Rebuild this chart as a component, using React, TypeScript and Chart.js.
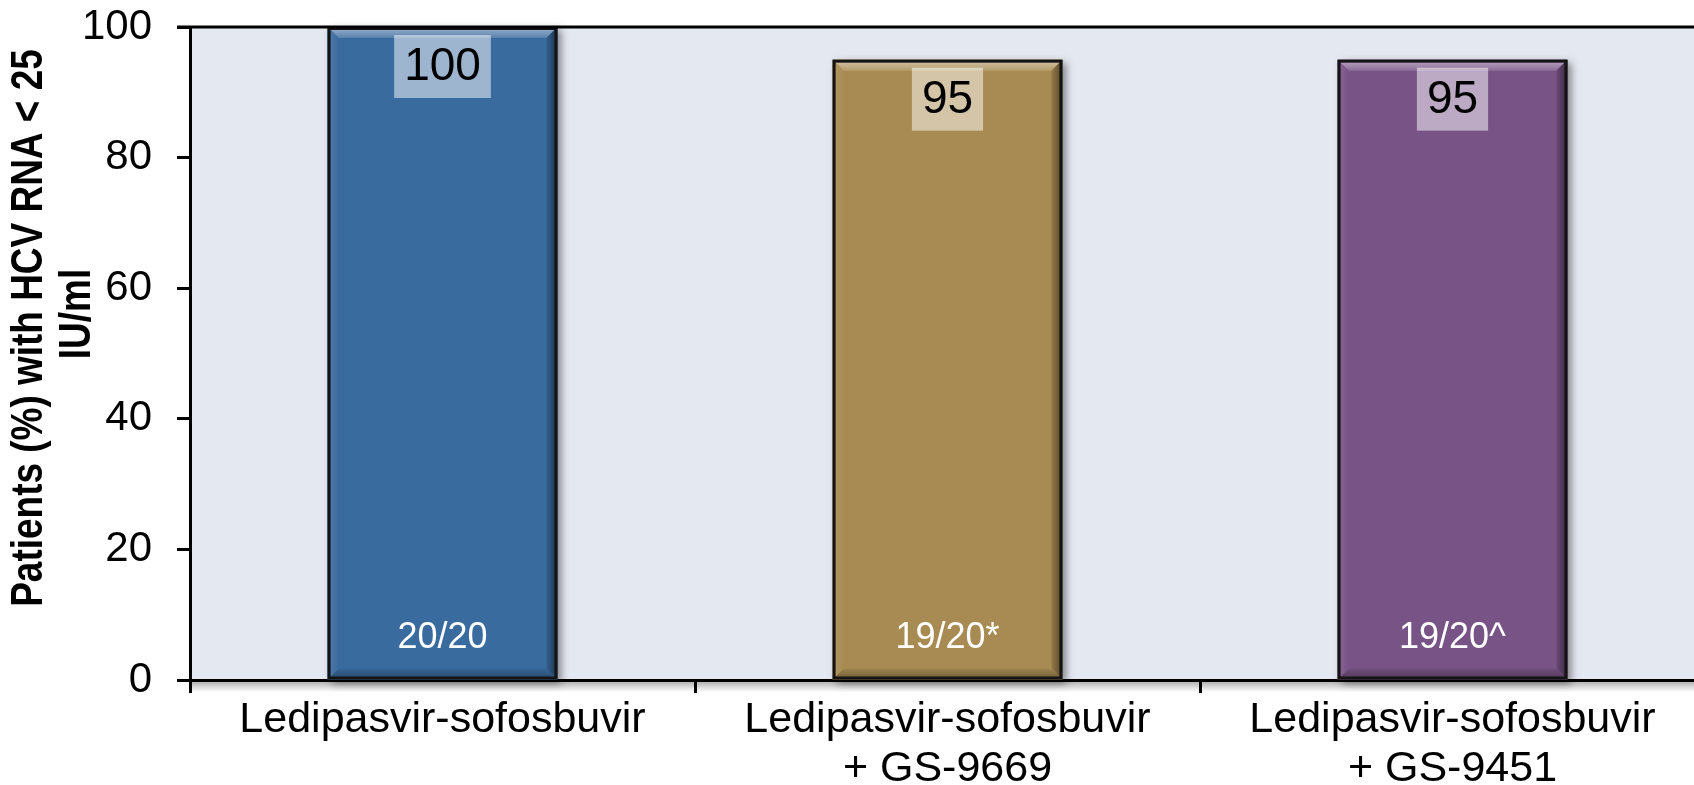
import React, { useEffect, useRef } from "react";
import { Chart, registerables } from "chart.js";

Chart.register(...registerables);

const categories: string[][] = [
  ["Ledipasvir-sofosbuvir"],
  ["Ledipasvir-sofosbuvir", "+ GS-9669"],
  ["Ledipasvir-sofosbuvir", "+ GS-9451"],
];
const values = [100, 95, 95];
const fractions = ["20/20", "19/20*", "19/20^"];
const barColors = ["#3A6B9F", "#A88B53", "#785386"];
const yTitle = ["Patients (%) with HCV RNA < 25", "IU/ml"];
const yMin = 0;
const yMax = 100;
const yStep = 20;

const FONT = '"Liberation Sans", Arial, Helvetica, sans-serif';

function hexToRgb(h: string) {
  const n = parseInt(h.slice(1), 16);
  return [(n >> 16) & 255, (n >> 8) & 255, n & 255];
}
function mix(c: string, target: string, t: number) {
  const a = hexToRgb(c);
  const b = hexToRgb(target);
  const r = a.map((v, i) => Math.round(v + (b[i] - v) * t));
  return `rgb(${r[0]},${r[1]},${r[2]})`;
}

const plotBg = {
  id: "plotBg",
  beforeDraw(chart: any) {
    const { ctx, chartArea: a } = chart;
    ctx.save();
    ctx.fillStyle = "#E4E8F0";
    ctx.fillRect(a.left, a.top, a.right - a.left, a.bottom - a.top);
    ctx.restore();
  },
};

const barDeco = {
  id: "barDeco",
  beforeDatasetsDraw(chart: any) {
    const { ctx, chartArea: a } = chart;
    const meta = chart.getDatasetMeta(0);
    ctx.save();
    const g = ctx.createLinearGradient(0, a.bottom, 0, a.bottom + 12);
    g.addColorStop(0, "rgba(0,0,0,0.35)");
    g.addColorStop(1, "rgba(0,0,0,0)");
    ctx.fillStyle = g;
    ctx.fillRect(a.left, a.bottom, a.right - a.left, 12);
    meta.data.forEach((el: any) => {
      const { x, y, base, width } = el.getProps(["x", "y", "base", "width"], true);
      ctx.save();
      ctx.shadowColor = "rgba(0,0,0,0.45)";
      ctx.shadowBlur = 8;
      ctx.shadowOffsetX = 4;
      ctx.shadowOffsetY = 3;
      ctx.fillStyle = "#555";
      ctx.fillRect(x - width / 2, y, width, base - y);
      ctx.restore();
    });
    ctx.restore();
  },
  afterDatasetsDraw(chart: any) {
    const { ctx } = chart;
    const meta = chart.getDatasetMeta(0);
    const poly = (pts: number[][], fill: any) => {
      ctx.beginPath();
      ctx.moveTo(pts[0][0], pts[0][1]);
      for (let i = 1; i < pts.length; i++) ctx.lineTo(pts[i][0], pts[i][1]);
      ctx.closePath();
      ctx.fillStyle = fill;
      ctx.fill();
    };
    meta.data.forEach((el: any, i: number) => {
      const { x, y, base, width } = el.getProps(["x", "y", "base", "width"], true);
      const l = x - width / 2;
      const r = x + width / 2;
      const t = y;
      const b = base;
      const bv = 11;
      const c = barColors[i];
      ctx.save();
      let g = ctx.createLinearGradient(0, t, 0, t + bv);
      g.addColorStop(0, mix(c, "#FFFFFF", 0.5));
      g.addColorStop(1, mix(c, "#FFFFFF", 0.15));
      poly([[l, t], [r, t], [r - bv, t + bv], [l + bv, t + bv]], g);
      g = ctx.createLinearGradient(r, 0, r - bv, 0);
      g.addColorStop(0, mix(c, "#000000", 0.5));
      g.addColorStop(1, mix(c, "#000000", 0.12));
      poly([[r, t], [r, b], [r - bv, b - bv], [r - bv, t + bv]], g);
      g = ctx.createLinearGradient(0, b, 0, b - bv);
      g.addColorStop(0, mix(c, "#000000", 0.35));
      g.addColorStop(1, mix(c, "#000000", 0.05));
      poly([[l, b], [r, b], [r - bv, b - bv], [l + bv, b - bv]], g);
      g = ctx.createLinearGradient(l, 0, l + bv, 0);
      g.addColorStop(0, mix(c, "#FFFFFF", 0.12));
      g.addColorStop(1, c);
      poly([[l, t], [l + bv, t + bv], [l + bv, b - bv], [l, b]], g);
      ctx.strokeStyle = "#141414";
      ctx.lineWidth = 3;
      ctx.strokeRect(l + 1.5, t + 1.5, width - 3, b - t - 3);

      ctx.font = `46px ${FONT}`;
      const txt = String(values[i]);
      const tw = ctx.measureText(txt).width;
      const bw = tw + 20;
      const bh = 63;
      const by = t + 8;
      ctx.fillStyle = "rgba(255,255,255,0.5)";
      ctx.fillRect(x - bw / 2, by, bw, bh);
      ctx.fillStyle = "#000000";
      ctx.textAlign = "center";
      ctx.textBaseline = "middle";
      ctx.fillText(txt, x, by + bh / 2 + 1);

      ctx.font = `36px ${FONT}`;
      ctx.fillStyle = "#FFFFFF";
      ctx.fillText(fractions[i], x, 638);
      ctx.restore();
    });
  },
  afterDraw(chart: any) {
    const { ctx, chartArea: a } = chart;
    ctx.save();
    ctx.strokeStyle = "#000000";
    ctx.lineWidth = 3;
    ctx.beginPath();
    ctx.moveTo(a.left - 13, a.top);
    ctx.lineTo(chart.width, a.top);
    ctx.stroke();
    ctx.fillStyle = "#000000";
    ctx.font = `bold 44px ${FONT}`;
    ctx.textAlign = "center";
    ctx.textBaseline = "middle";
    const centers = [
      [30, 328],
      [78, 314],
    ];
    yTitle.forEach((line, i) => {
      ctx.save();
      ctx.translate(centers[i][0], centers[i][1]);
      ctx.rotate(-Math.PI / 2);
      ctx.scale(0.84, 1);
      ctx.fillText(line, 0, 0);
      ctx.restore();
    });
    ctx.restore();
  },
};

export default function App() {
  const ref = useRef<HTMLCanvasElement | null>(null);
  useEffect(() => {
    if (!ref.current) return;
    const chart = new Chart(ref.current, {
      type: "bar",
      data: {
        labels: categories,
        datasets: [
          {
            data: values,
            backgroundColor: barColors,
            borderWidth: 0,
            barPercentage: 0.455,
            categoryPercentage: 1,
          },
        ],
      },
      options: {
        animation: false,
        responsive: false,
        maintainAspectRatio: false,
        layout: { padding: { top: 27, right: 35, left: 0, bottom: 0 } },
        plugins: {
          legend: { display: false },
          tooltip: { enabled: false },
        },
        scales: {
          x: {
            z: 1,
            afterFit: (s: any) => {
              s.height = 105;
              s.paddingLeft = 0;
              s.paddingRight = 0;
            },
            grid: {
              offset: true,
              drawOnChartArea: false,
              drawTicks: true,
              tickLength: 13,
              tickColor: "#000000",
              tickWidth: 3,
            },
            border: { display: true, color: "#000000", width: 3 },
            ticks: {
              color: "#000000",
              padding: 3,
              maxRotation: 0,
              autoSkip: false,
              font: { family: FONT, size: 43, lineHeight: 1.14 },
            },
          },
          y: {
            z: 1,
            min: yMin,
            max: yMax,
            afterFit: (s: any) => {
              s.width = 190;
              s.paddingTop = 0;
              s.paddingBottom = 0;
            },
            grid: {
              drawOnChartArea: false,
              drawTicks: true,
              tickLength: 13,
              tickColor: "#000000",
              tickWidth: 3,
            },
            border: { display: true, color: "#000000", width: 3 },
            ticks: {
              stepSize: yStep,
              color: "#000000",
              padding: 25,
              font: { family: FONT, size: 42 },
            },
          },
        },
      },
      plugins: [plotBg, barDeco],
    });
    return () => chart.destroy();
  }, []);
  return (
    <div
      style={{
        position: "fixed",
        left: 0,
        top: 0,
        width: 1694,
        height: 785,
        overflow: "hidden",
        background: "#FFFFFF",
      }}
    >
      <canvas ref={ref} width={1740} height={785} style={{ display: "block" }} />
    </div>
  );
}
